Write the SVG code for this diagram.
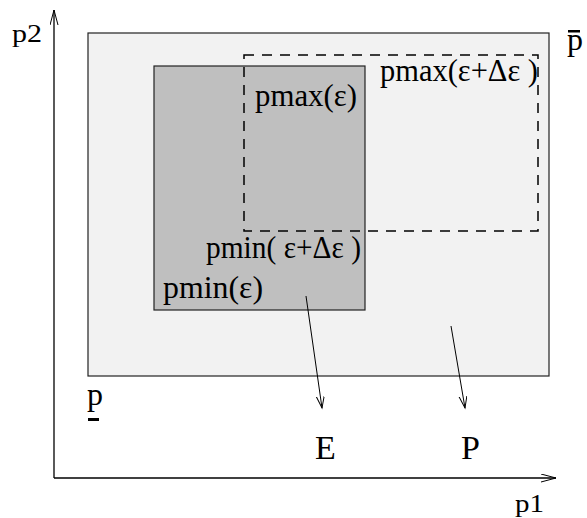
<svg xmlns="http://www.w3.org/2000/svg" width="587" height="518" viewBox="0 0 587 518">
<style>
text{font-family:'Liberation Serif','Times New Roman',serif;fill:#000}
.lbl{font-size:32px}
.big{font-size:34px}
.ax{font-size:26px}
.ln{stroke:#000;fill:none}
</style>
<defs>
<marker id="ah" markerUnits="userSpaceOnUse" markerWidth="16" markerHeight="10" refX="15" refY="4" orient="auto">
<path d="M0,0 L15,4 L0,8" fill="none" stroke="#000" stroke-width="1"/>
</marker>
<marker id="ah2" markerUnits="userSpaceOnUse" markerWidth="14" markerHeight="10" refX="12" refY="4" orient="auto">
<path d="M0,0 L12,4 L0,8" fill="none" stroke="#000" stroke-width="1"/>
</marker>
</defs>
<g id="outer">
<rect x="88" y="33" width="461" height="343" fill="#f2f2f2" stroke="#222" stroke-width="1.2"/>
</g>
<g id="inner">
<rect x="154" y="66" width="211" height="244" fill="#bfbfbf" stroke="#222" stroke-width="1.2"/>
</g>
<g id="dashed">
<rect x="244" y="55" width="294" height="176" fill="none" stroke="#000" stroke-width="1.5" stroke-dasharray="10 8"/>
</g>
<g id="connectors">
<line class="ln" x1="54" y1="478" x2="54" y2="10" stroke-width="1.3" marker-end="url(#ah)"/>
<line class="ln" x1="54" y1="478" x2="556" y2="478" stroke-width="1.3" marker-end="url(#ah)"/>
<line class="ln" x1="306" y1="296" x2="322" y2="408" marker-end="url(#ah2)"/>
<line class="ln" x1="451" y1="326" x2="465" y2="408" marker-end="url(#ah2)"/>
</g>
<g id="labels">
<text class="ax" x="12" y="42" textLength="30" lengthAdjust="spacingAndGlyphs">p2</text>
<text class="ax" x="515" y="512" textLength="29" lengthAdjust="spacingAndGlyphs">p1</text>
<g id="pbar">
<text class="lbl" x="567" y="50">p</text>
<rect x="568" y="30" width="12" height="2.5" fill="#000"/>
</g>
<g id="punder">
<text class="lbl" x="87" y="405">p</text>
<rect x="88" y="418" width="11" height="3" fill="#000"/>
</g>
<text class="lbl" x="380" y="81" textLength="158" lengthAdjust="spacingAndGlyphs">pmax(ε+Δε )</text>
<text class="lbl" x="255" y="106" textLength="102" lengthAdjust="spacingAndGlyphs">pmax(ε)</text>
<text class="lbl" x="206" y="258" textLength="155" lengthAdjust="spacingAndGlyphs">pmin( ε+Δε )</text>
<text class="lbl" x="163" y="298" textLength="100" lengthAdjust="spacingAndGlyphs">pmin(ε)</text>
<text class="big" x="315" y="459">E</text>
<text class="big" x="461" y="459">P</text>
</g>
</svg>
